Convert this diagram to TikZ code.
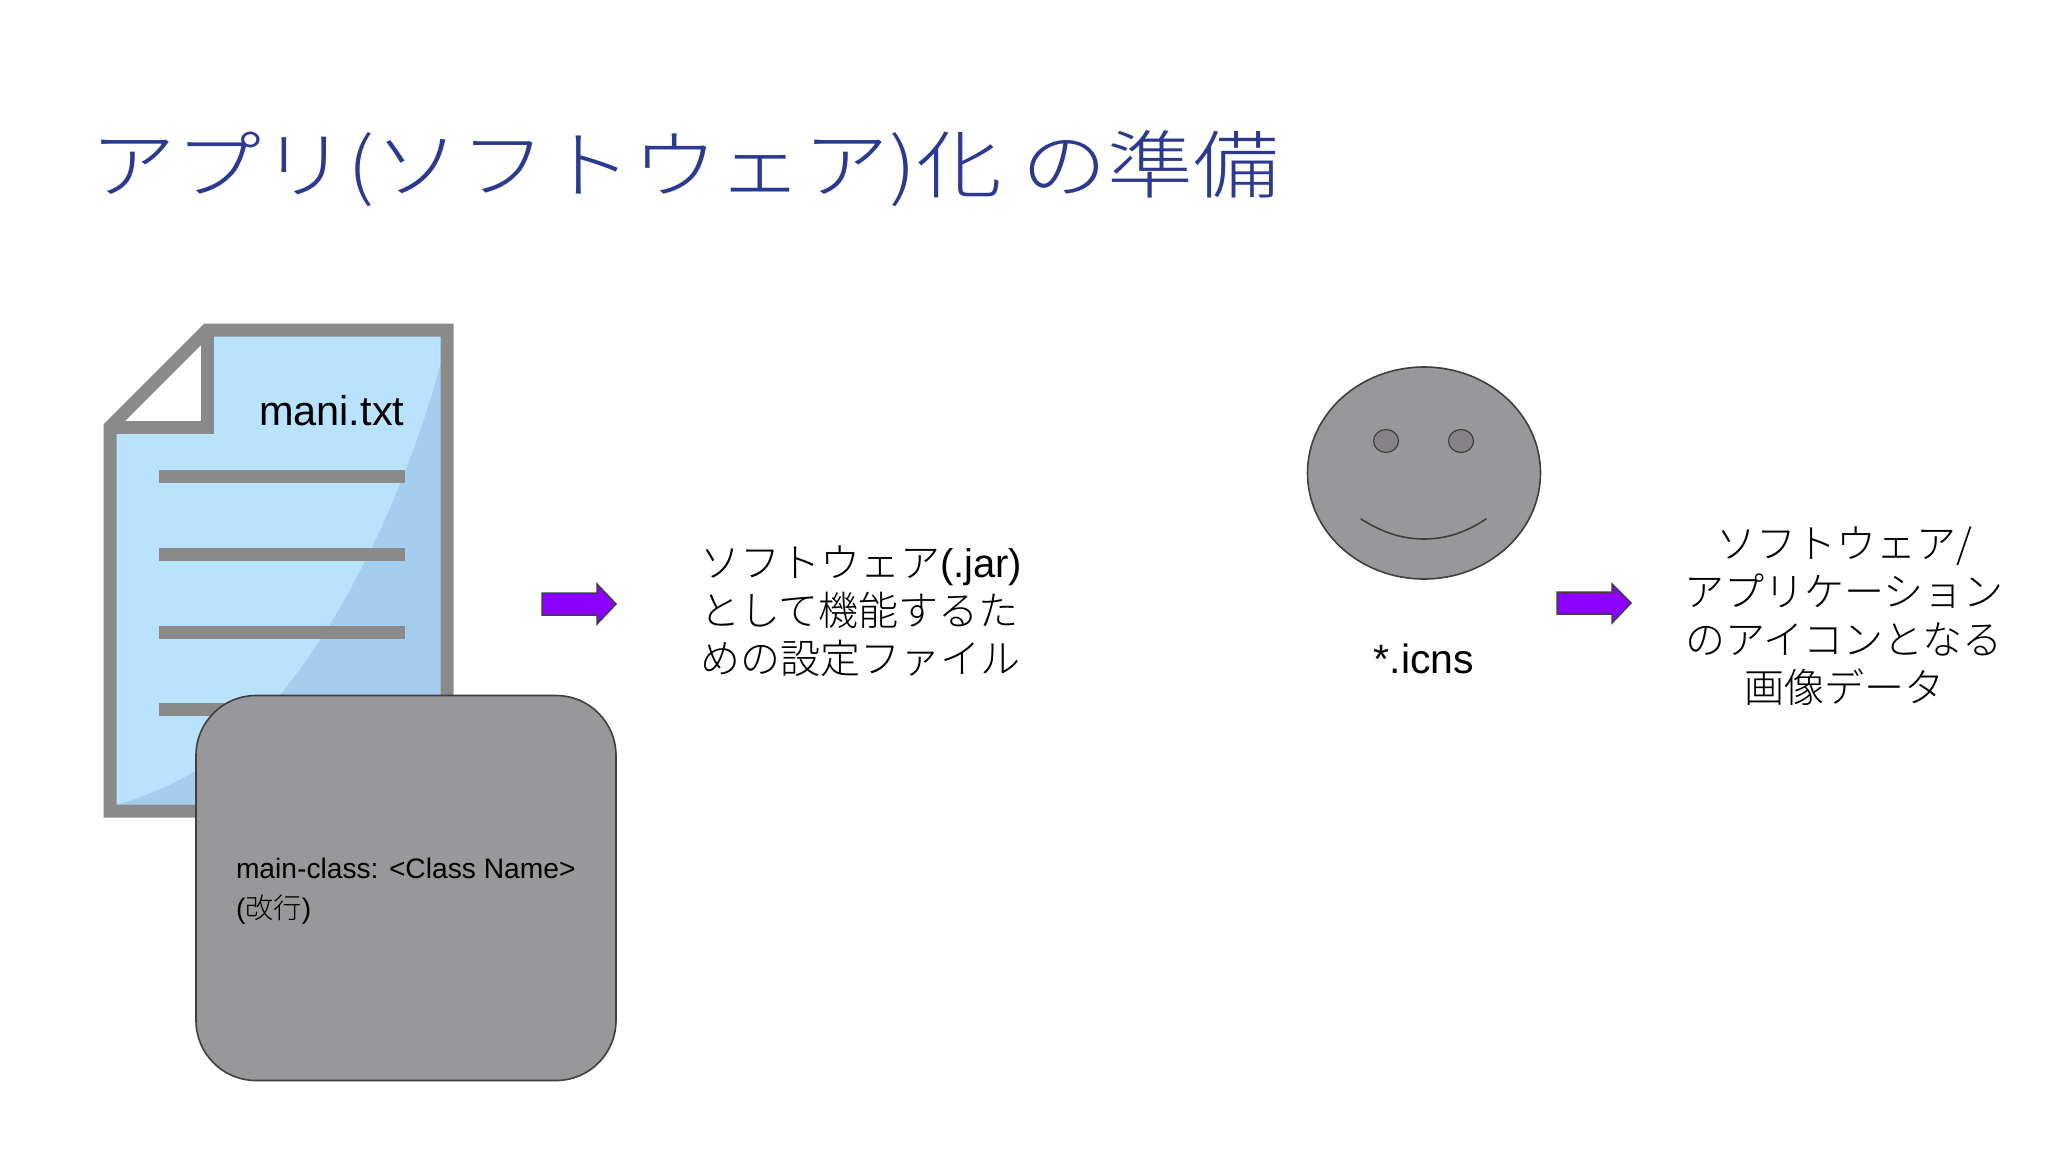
\documentclass[tikz,border=0pt]{standalone}
\usepackage{fontspec}
\setmainfont{Liberation Sans}
\newfontfamily\cjk{Noto Sans CJK JP Light}
\definecolor{titleblue}{HTML}{2B3990}
\definecolor{paper}{HTML}{B9E3FD}
\definecolor{papershade}{HTML}{A5CDEE}
\definecolor{docgray}{HTML}{8A8A8A}
\definecolor{shapegray}{HTML}{989799}
\definecolor{eyegray}{HTML}{858386}
\definecolor{edgegray}{HTML}{3F3F3F}
\definecolor{arrowviolet}{HTML}{8B00FF}
\tikzset{
  x=1pt,y=-1pt,
  docline/.style={draw=none,fill=docgray},
  facepart/.style={draw=edgegray,line width=1.6pt},
  violetarrow/.style={fill=arrowviolet,draw=edgegray,line width=1.5pt,line join=miter},
  label/.style={inner sep=0pt,outer sep=0pt,text=black},
  jptext/.style={label,font=\fontsize{40}{48}\selectfont\cjk},
}
\begin{document}
\begin{tikzpicture}
\useasboundingbox (0,0) rectangle (2048,1152);
\fill[white] (0,0) rectangle (2048,1152);
% title
\node[label,anchor=base west,text=titleblue] (title) at (90,192)
  {\scalebox{1.16}[1]{\fontsize{74}{80}\selectfont\cjk アプリ(ソフトウェア)化 の準備}};
% document icon
\fill[paper] (110,427) -- (207,330) -- (447,330) -- (447,811) -- (110,811) -- cycle;
\fill[papershade] (442,359) .. controls (410,480) and (350,610) .. (280,695)
  .. controls (230,760) and (170,790) .. (112,806) -- (442,806) -- cycle;
\fill[white] (110,427) -- (207,330) -- (207,427) -- cycle;
\draw[docgray,line width=13pt,line join=miter] (110,427) -- (207,330) -- (447,330) -- (447,811) -- (110,811) -- cycle;
\draw[docgray,line width=13pt,line join=miter] (207,330) -- (207,427) -- (110,427);
\foreach \ly in {476,554,632,709}{
  \fill[docline] (159,\ly-6.5) rectangle (405,\ly+6.5);
}
\node[label,anchor=base west] (mani) at (259,425) {\fontsize{41.5}{44}\selectfont mani.txt};
% rounded box
\node[rectangle,draw=edgegray,fill=shapegray,line width=1.6pt,rounded corners=60pt,
  minimum width=420pt,minimum height=385pt,anchor=center] (box) at (406,888) {};
\node[label,anchor=base west] (mainclass) at (236,878)
  {\fontsize{28.2}{30}\selectfont main-class: <Class Name>};
\node[label,anchor=base west] (kaigyo) at (236,918)
  {\fontsize{28.2}{30}\selectfont (\cjk 改行\rmfamily)};
% arrows
\draw[violetarrow] (542,593) -- (597,593) -- (597,584) -- (616,604) -- (597,624)
  -- (597,615) -- (542,615) -- cycle;
\draw[violetarrow] (1557,592) -- (1612,592) -- (1612,584) -- (1631,603) -- (1612,623)
  -- (1612,614) -- (1557,614) -- cycle;
% middle text
\node[jptext,anchor=west,align=left] (jartext) at (700,611)
  {ソフトウェア{\rmfamily(.jar)}\\として機能するた\\めの設定ファイル};
% face
\path[facepart,fill=shapegray] (1424,473) ellipse [x radius=116.5,y radius=106];
\path[facepart,fill=eyegray,line width=1.2pt] (1386,441) ellipse [x radius=12.5,y radius=11.5];
\path[facepart,fill=eyegray,line width=1.2pt] (1461,441) ellipse [x radius=12.5,y radius=11.5];
\draw[facepart,line cap=round] (1361,519) .. controls (1383,533) and (1403,539) .. (1424,539)
  .. controls (1445,539) and (1465,533) .. (1486,519);
\node[label,anchor=base] (icns) at (1424,673) {\fontsize{41}{44}\selectfont *.icns};
% right text
\node[jptext,anchor=center,align=center] (icontext) at (1844,616)
  {ソフトウェア/\\アプリケーション\\のアイコンとなる\\画像データ};
\end{tikzpicture}
\end{document}
